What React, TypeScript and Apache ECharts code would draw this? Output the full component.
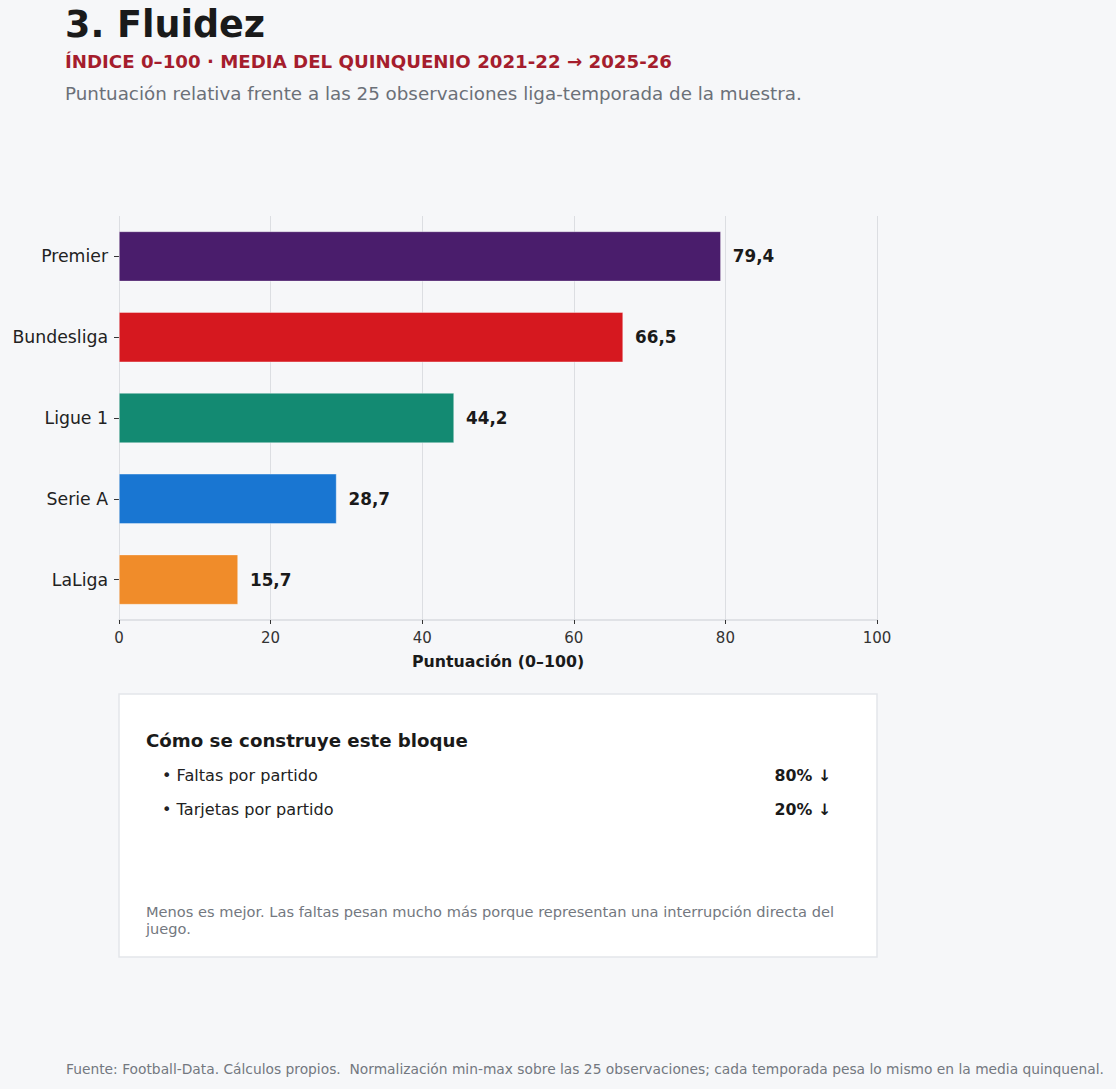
import React, { useEffect, useRef } from "react";
import * as echarts from "echarts";

const leagues = ["Premier", "Bundesliga", "Ligue 1", "Serie A", "LaLiga"];
const scores = [79.4, 66.5, 44.2, 28.7, 15.7];
const barColors = ["#4a1d6c", "#d6181f", "#138a72", "#1976d2", "#f08c2a"];
const xTicks = { min: 0, max: 100, interval: 20 };

const components = ["Faltas por partido", "Tarjetas por partido"];
const weights = ["80% ↓", "20% ↓"];

const FONT = "'DejaVu Sans', Verdana, sans-serif";

export default function App() {
  const ref = useRef<HTMLDivElement>(null);

  useEffect(() => {
    if (!ref.current) return;
    const chart = echarts.init(ref.current, undefined, { renderer: "svg" });

    const graphics: any[] = [
      {
        type: "text",
        left: 65,
        top: 6,
        style: { text: "3. Fluidez", font: `bold 36.5px ${FONT}`, fill: "#1a1a1a" },
      },
      {
        type: "text",
        x: 65,
        y: 61.5,
        style: {
          text: "ÍNDICE 0–100 · MEDIA DEL QUINQUENIO 2021-22 → 2025-26",
          font: `bold 18.2px ${FONT}`,
          fill: "#a51d2d",
          textVerticalAlign: "middle",
        },
      },
      {
        type: "text",
        x: 65,
        y: 93.5,
        style: {
          text: "Puntuación relativa frente a las 25 observaciones liga-temporada de la muestra.",
          font: `18.3px ${FONT}`,
          fill: "#6b7078",
          textVerticalAlign: "middle",
        },
      },
      {
        type: "rect",
        shape: { x: 119, y: 694, width: 758, height: 263 },
        style: { fill: "#ffffff", stroke: "#e4e6ea", lineWidth: 1.5 },
        z: 0,
      },
      {
        type: "text",
        x: 146,
        y: 740,
        style: {
          text: "Cómo se construye este bloque",
          font: `bold 18.2px ${FONT}`,
          fill: "#1a1a1a",
          textVerticalAlign: "middle",
        },
      },
      ...components.map((c, i) => ({
        type: "text",
        x: 162,
        y: 775 + i * 34,
        style: {
          text: "• " + c,
          font: `16.1px ${FONT}`,
          fill: "#222222",
          textVerticalAlign: "middle",
        },
      })),
      ...weights.map((w, i) => ({
        type: "text",
        x: 831,
        y: 775 + i * 34,
        style: {
          text: w,
          font: `bold 15.8px ${FONT}`,
          fill: "#1a1a1a",
          textAlign: "right",
          textVerticalAlign: "middle",
        },
      })),
      {
        type: "text",
        x: 146,
        y: 903,
        style: {
          text: "Menos es mejor. Las faltas pesan mucho más porque representan una interrupción directa del\njuego.",
          font: `14.6px ${FONT}`,
          lineHeight: 17,
          fill: "#737880",
        },
      },
      {
        type: "text",
        x: 1104,
        y: 1069,
        style: {
          text: "Fuente: Football-Data. Cálculos propios.  Normalización min-max sobre las 25 observaciones; cada temporada pesa lo mismo en la media quinquenal.",
          font: `13.8px ${FONT}`,
          fill: "#737880",
          textAlign: "right",
          textVerticalAlign: "middle",
        },
      },
    ];

    chart.setOption({
      animation: false,
      backgroundColor: "#f6f7f9",
      textStyle: { fontFamily: FONT },
      grid: { left: 119, top: 216, width: 758, height: 404, containLabel: false },
      xAxis: {
        type: "value",
        min: xTicks.min,
        max: xTicks.max,
        interval: xTicks.interval,
        name: "Puntuación (0–100)",
        nameLocation: "middle",
        nameGap: 33,
        nameTextStyle: { fontFamily: FONT, fontSize: 15.8, fontWeight: "bold", color: "#1a1a1a" },
        axisLine: { show: true, lineStyle: { color: "#d9dbdf", width: 1.5 } },
        axisTick: { show: true, length: 4, lineStyle: { color: "#333333", width: 1 } },
        axisLabel: { fontFamily: FONT, fontSize: 15, color: "#333333", margin: 10 },
        splitLine: { show: true, lineStyle: { color: "#dcdee2", width: 1 } },
      },
      yAxis: {
        type: "category",
        data: leagues,
        inverse: true,
        axisLine: { show: false },
        axisTick: { show: true, length: 5, alignWithLabel: true, lineStyle: { color: "#333333" } },
        axisLabel: { fontFamily: FONT, fontSize: 17.3, color: "#222222", margin: 11 },
        splitLine: { show: false },
      },
      series: [
        {
          type: "bar",
          data: scores.map((v, i) => ({ value: v, itemStyle: { color: barColors[i] } })),
          barWidth: 50,
          itemStyle: { borderColor: "rgba(255,255,255,0.6)", borderWidth: 0.6 },
          label: {
            show: true,
            position: "right",
            distance: 12,
            fontFamily: FONT,
            fontSize: 16.8,
            fontWeight: "bold",
            color: "#1a1a1a",
            formatter: (p: any) => p.value.toFixed(1).replace(".", ","),
          },
        },
      ],
      graphic: graphics,
    });

    return () => chart.dispose();
  }, []);

  return (
    <div
      ref={ref}
      style={{ position: "fixed", left: 0, top: 0, width: 1116, height: 1089 }}
    />
  );
}
